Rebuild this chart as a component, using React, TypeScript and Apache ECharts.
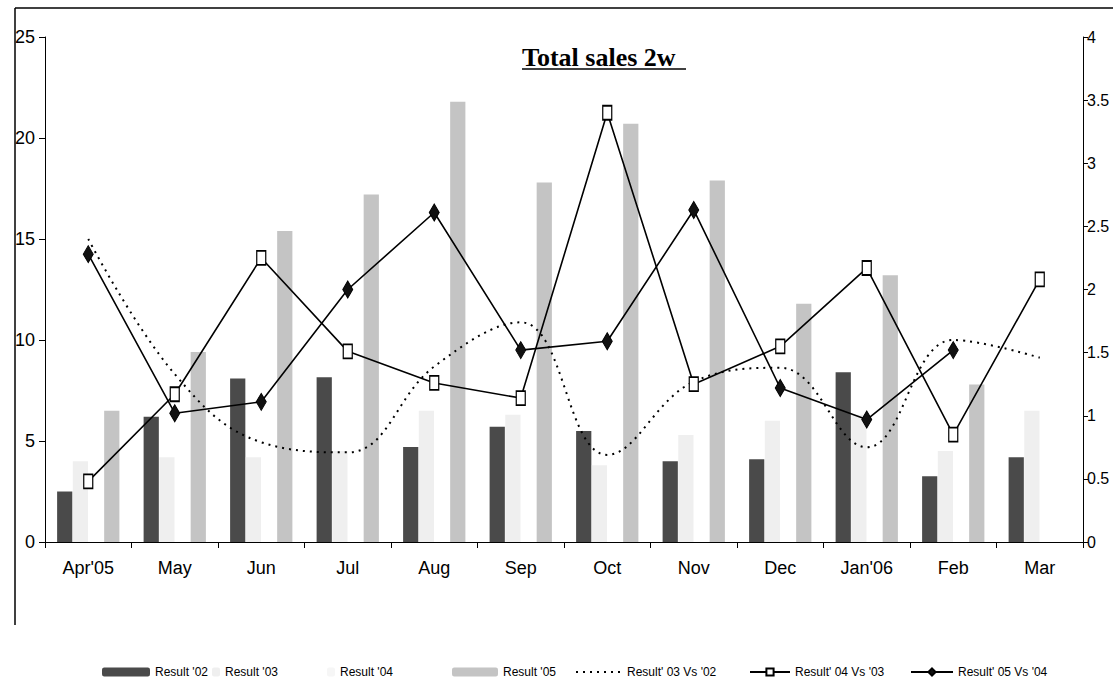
import React, { useEffect, useRef } from "react";
import * as echarts from "echarts";

const months = ["Apr'05", "May", "Jun", "Jul", "Aug", "Sep", "Oct", "Nov", "Dec", "Jan'06", "Feb", "Mar"];
const result02 = [2.5, 6.2, 8.1, 8.15, 4.7, 5.7, 5.5, 4.0, 4.1, 8.4, 3.25, 4.2];
const result03 = [4.0, 4.2, 4.2, 4.5, 6.5, 6.3, 3.8, 5.3, 6.0, 6.3, 4.5, 6.5];
const result04 = [null, null, null, null, null, null, null, null, null, null, null, null];
const result05 = [6.5, 9.4, 15.4, 17.2, 21.8, 17.8, 20.7, 17.9, 11.8, 13.2, 7.8, null];
const ratio03vs02 = [2.4, 1.33, 0.79, 0.71, 1.39, 1.74, 0.69, 1.27, 1.38, 0.75, 1.6, 1.46];
const ratio04vs03 = [0.48, 1.17, 2.25, 1.51, 1.26, 1.14, 3.4, 1.25, 1.55, 2.17, 0.85, 2.08];
const ratio05vs04 = [2.28, 1.02, 1.11, 2.0, 2.61, 1.52, 1.59, 2.63, 1.22, 0.97, 1.52, null];
const leftTicks = { min: 0, max: 25, interval: 5 };
const rightTicks = { min: 0, max: 4, interval: 0.5 };

const SANS = "'Liberation Sans', Arial, sans-serif";

export default function App() {
  const ref = useRef<HTMLDivElement>(null);
  useEffect(() => {
    if (!ref.current) return;
    const chart = echarts.init(ref.current, null, { renderer: "svg" });
    const legendText = { color: "#000", fontFamily: SANS, fontSize: 12 };
    const mkLegend = (name: any, left: number, w: number) => ({
      data: [name],
      left,
      top: 661,
      itemWidth: w,
      itemHeight: 9,
      itemGap: 0,
      selectedMode: false,
      textStyle: legendText,
    });
    chart.setOption({
      animation: false,
      backgroundColor: "#fff",
      grid: { left: 45, right: 30, top: 37, bottom: 143, containLabel: false, outerBoundsMode: "none" },
      legend: [
        mkLegend("Result '02", 97, 48),
        mkLegend("Result '03", 207, 8),
        mkLegend("Result '04", 322, 8),
        mkLegend("Result '05", 447, 46),
        mkLegend({ name: "Result' 03 Vs '02", itemStyle: { opacity: 0 } }, 570, 46),
        mkLegend("Result' 04 Vs '03", 744, 40),
        mkLegend("Result' 05 Vs '04", 905, 42),
      ],
      xAxis: {
        type: "category",
        data: months,
        axisLine: { lineStyle: { color: "#000", width: 1 } },
        axisTick: { show: true, length: 6, lineStyle: { color: "#000" } },
        axisLabel: { color: "#000", fontFamily: SANS, fontSize: 18, margin: 17 },
      },
      yAxis: [
        {
          type: "value",
          ...leftTicks,
          position: "left",
          axisLine: { show: true, lineStyle: { color: "#000", width: 1 } },
          axisTick: { show: true, length: 6, lineStyle: { color: "#000" } },
          axisLabel: { color: "#000", fontFamily: SANS, fontSize: 18, margin: 10 },
          splitLine: { show: false },
        },
        {
          type: "value",
          ...rightTicks,
          position: "right",
          axisLine: { show: true, lineStyle: { color: "#000", width: 1 } },
          axisTick: { show: true, length: 5, lineStyle: { color: "#000" } },
          axisLabel: { color: "#000", fontFamily: SANS, fontSize: 16, margin: 4 },
          splitLine: { show: false },
        },
      ],
      series: [
        {
          name: "Result '02",
          type: "bar",
          data: result02,
          barGap: "3%",
          barCategoryGap: "28%",
          itemStyle: { color: "#4a4a4a" },
        },
        {
          name: "Result '03",
          type: "bar",
          data: result03,
          itemStyle: { color: "#efefef" },
        },
        {
          name: "Result '04",
          type: "bar",
          data: result04,
          itemStyle: { color: "#f6f6f6" },
        },
        {
          name: "Result '05",
          type: "bar",
          data: result05,
          itemStyle: { color: "#c4c4c4" },
        },
        {
          name: "Result' 03 Vs '02",
          type: "line",
          yAxisIndex: 1,
          data: ratio03vs02,
          smooth: 0.4,
          symbol: "none",
          lineStyle: { color: "#000", width: 2, type: [2, 5] },
          itemStyle: { color: "#000" },
          z: 3,
        },
        {
          name: "Result' 04 Vs '03",
          type: "line",
          yAxisIndex: 1,
          data: ratio04vs03,
          symbol: "rect",
          symbolSize: [9, 14],
          lineStyle: { color: "#000", width: 1.6 },
          itemStyle: { color: "#fff", borderColor: "#000", borderWidth: 1.5 },
          z: 4,
        },
        {
          name: "Result' 05 Vs '04",
          type: "line",
          yAxisIndex: 1,
          data: ratio05vs04,
          symbol: "diamond",
          symbolSize: [10, 17],
          lineStyle: { color: "#000", width: 1.6 },
          itemStyle: { color: "#111", borderColor: "#000", borderWidth: 1 },
          z: 5,
        },
      ],
      graphic: [
        {
          type: "line",
          shape: { x1: 15, y1: 8, x2: 1113, y2: 8 },
          style: { stroke: "#000", lineWidth: 1.5 },
          silent: true,
        },
        {
          type: "line",
          shape: { x1: 15, y1: 8, x2: 15, y2: 625 },
          style: { stroke: "#000", lineWidth: 1.5 },
          silent: true,
        },
        {
          type: "text",
          left: 522,
          top: 44,
          style: {
            text: "Total sales 2w",
            font: "bold 26px 'Liberation Serif', 'DejaVu Serif', serif",
            fill: "#000",
          },
        },
        {
          type: "line",
          shape: { x1: 522, y1: 69, x2: 686, y2: 69 },
          style: { stroke: "#000", lineWidth: 1.5 },
          silent: true,
        },
      ],
    });
    return () => chart.dispose();
  }, []);
  return (
    <div
      ref={ref}
      style={{ position: "fixed", left: 0, top: 0, width: 1113, height: 685, background: "#fff" }}
    />
  );
}
